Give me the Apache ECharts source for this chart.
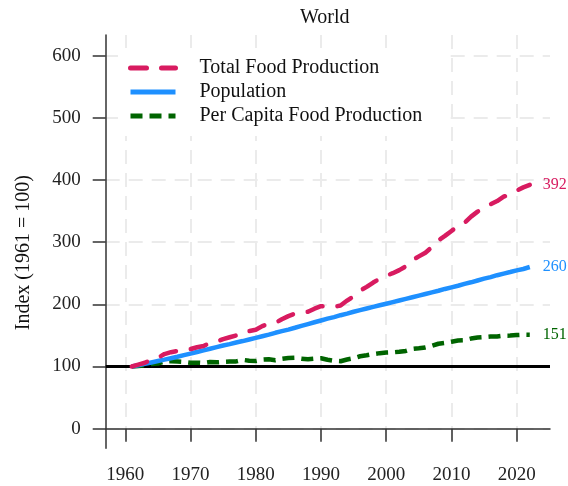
<!DOCTYPE html>
<html>
<head>
<meta charset="utf-8">
<script src="https://cdn.jsdelivr.net/npm/echarts@6/dist/echarts.min.js"></script>
<style>html,body{margin:0;padding:0;background:#fff;}#c{width:568px;height:486px;}</style>
</head>
<body>
<div id="c"></div>
<script>
const years = [1961,1962,1963,1964,1965,1966,1967,1968,1969,1970,1971,1972,1973,1974,1975,1976,1977,1978,1979,1980,1981,1982,1983,1984,1985,1986,1987,1988,1989,1990,1991,1992,1993,1994,1995,1996,1997,1998,1999,2000,2001,2002,2003,2004,2005,2006,2007,2008,2009,2010,2011,2012,2013,2014,2015,2016,2017,2018,2019,2020,2021,2022];
const totalFood = [100,103,106,111,114,120,123,125,127,128,131,133,138,140,144,147,150,156,157,159,165,169,170,176,181,185,186,188,193,197,196,196,198,206,213,222,228,235,241,246,250,255,261,271,277,283,292,303,310,318,326,331,341,349,355,361,366,373,377,383,388,392];
const population = [100,102,104.2,106.5,108.8,111,113.3,115.6,118.2,120.8,123.4,126,128.6,131.2,133.8,136,138.6,140.9,143.5,146.1,148.7,151.3,154.2,156.8,159.4,162.3,165.3,168.2,171.1,174,176.9,179.5,182.5,185.1,188,190.6,193.2,195.8,198.4,201,203.6,206.2,208.8,211.4,214,216.6,219.2,221.8,224.7,227.3,229.9,232.8,235.4,238.3,241.2,243.8,246.8,249.4,251.9,254.5,256.8,260];
const perCapita = [100,101,101.7,104.2,104.8,108.1,108.6,108.1,107.4,106,106.2,105.6,107.3,106.7,107.6,108.1,108.2,110.7,109.4,108.8,111,111.7,110.2,112.2,113.6,114,112.5,111.8,112.8,113.2,110.8,109.2,108.5,111.3,113.3,116.5,118,120,121.5,122.4,122.8,123.7,125,128.2,129.4,130.7,133.2,136.6,138,139.9,141.8,142.2,144.9,146.5,147.2,148.1,148.3,149.6,149.7,150.5,151.1,151];
const xTicks = [1960,1970,1980,1990,2000,2010,2020];
const yTicks = [0,100,200,300,400,500,600];
const seriesNames = ['Total Food Production','Population','Per Capita Food Production'];
const baseline = 100;

const FONT = 'Liberation Serif, Times New Roman, serif';
const pairs = arr => years.map((y, i) => [y, arr[i]]);

const chart = echarts.init(document.getElementById('c'), null, {renderer: 'canvas'});
const endLabel = color => ({
  show: true, distance: 13, color: color, fontSize: 16, fontFamily: FONT,
  formatter: p => String(p.value[1])
});
chart.setOption({
  animation: false,
  backgroundColor: '#fff',
  title: {
    text: 'World', left: 300, top: 8, padding: 0,
    textStyle: {fontFamily: FONT, fontSize: 20, fontWeight: 'normal', color: '#111'}
  },
  legend: {
    orient: 'vertical', left: 118, top: 48, z: 10,
    padding: [10, 20, 10, 10], backgroundColor: '#fff',
    itemWidth: 45, itemHeight: 14, itemGap: 4,
    lineStyle: {width: 5},
    itemStyle: {opacity: 0},
    textStyle: {fontFamily: FONT, fontSize: 20, color: '#111', lineHeight: 20, padding: [0, 0, 0, 19]},
    data: seriesNames
  },
  grid: {left: 105.7, right: 18, top: 35, bottom: 37.7, containLabel: false, outerBoundsMode: 'none'},
  xAxis: {
    type: 'value', min: 1957, max: 2025.1,
    axisLine: {show: true, lineStyle: {color: '#333', width: 1.5}},
    axisTick: {show: true, length: 13, lineStyle: {color: '#333', width: 1.5}, customValues: xTicks},
    axisLabel: {customValues: xTicks, margin: 17, fontFamily: FONT, fontSize: 19, color: '#222', formatter: v => String(v)},
    splitLine: {show: true, lineStyle: {color: '#ebebeb', width: 2, type: [14, 9]}}
  },
  yAxis: {
    type: 'value', min: -31.5, max: 633,
    name: 'Index (1961 = 100)', nameLocation: 'middle', nameGap: 72,
    nameTextStyle: {fontFamily: FONT, fontSize: 20, color: '#111', padding: [0, 22, 0, 0]},
    axisLine: {show: true, lineStyle: {color: '#333', width: 1.5}},
    axisTick: {show: true, length: 13, lineStyle: {color: '#333', width: 1.5}, customValues: yTicks},
    axisLabel: {customValues: yTicks, margin: 25, fontFamily: FONT, fontSize: 19, color: '#222', formatter: v => String(v)},
    splitLine: {show: true, lineStyle: {color: '#ebebeb', width: 2, type: [14, 9]}}
  },
  series: [
    {
      name: seriesNames[2], type: 'line', data: pairs(perCapita), symbol: 'none', z: 3,
      lineStyle: {color: '#006400', width: 4.5, type: [12, 7]},
      itemStyle: {color: '#006400'},
      endLabel: endLabel('#006400'),
      markLine: {
        silent: true, symbol: 'none', label: {show: false}, z: 1,
        lineStyle: {color: '#000', width: 3, type: 'solid'},
        data: [{yAxis: baseline}]
      }
    },
    {
      name: seriesNames[1], type: 'line', data: pairs(population), symbol: 'none', z: 3,
      lineStyle: {color: '#1e90ff', width: 4.5, type: 'solid'},
      itemStyle: {color: '#1e90ff'},
      endLabel: endLabel('#1e90ff')
    },
    {
      name: seriesNames[0], type: 'line', data: pairs(totalFood), symbol: 'none', z: 3,
      lineStyle: {color: '#d81b60', width: 4.5, type: [16, 15], cap: 'round'},
      itemStyle: {color: '#d81b60'},
      endLabel: endLabel('#d81b60')
    }
  ]
});
</script>
</body>
</html>
